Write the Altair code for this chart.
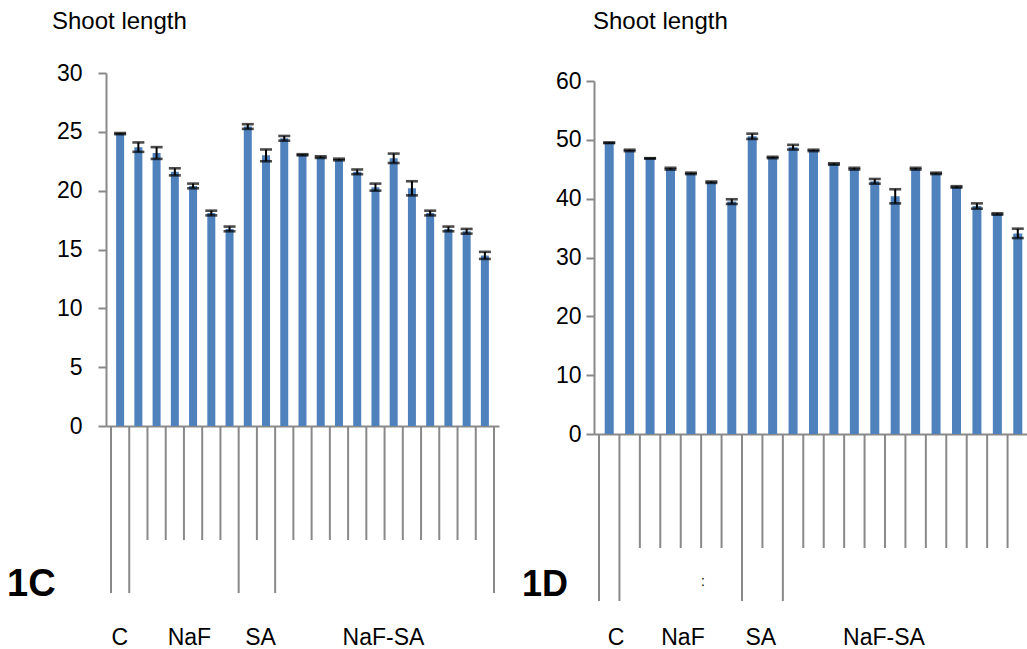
import altair as alt
import pandas as pd

# ---------------- data ----------------
group_names = ["C", "NaF", "SA", "NaF-SA"]
group_sizes = [1, 6, 2, 12]

# Panel 1C : shoot length (y 0-30)
values_c = [24.85, 23.7, 23.2, 21.6, 20.4, 18.1, 16.75, 25.45, 23.0, 24.45, 23.05,
            22.85, 22.65, 21.6, 20.3, 22.75, 20.2, 18.1, 16.75, 16.55, 14.5]
err_c = [0.05, 0.4, 0.5, 0.3, 0.2, 0.2, 0.2, 0.2, 0.5, 0.2, 0.05,
         0.07, 0.07, 0.2, 0.3, 0.4, 0.6, 0.2, 0.2, 0.2, 0.3]

# Panel 1D : shoot length (y 0-60)
values_d = [49.5, 48.2, 46.85, 45.1, 44.3, 42.8, 39.5, 50.6, 47.0, 48.75, 48.2,
            45.9, 45.1, 42.95, 40.4, 45.1, 44.3, 42.0, 38.75, 37.4, 34.1]
err_d = [0.05, 0.12, 0.03, 0.15, 0.12, 0.12, 0.4, 0.45, 0.12, 0.4, 0.12,
         0.12, 0.15, 0.4, 1.2, 0.15, 0.12, 0.12, 0.45, 0.12, 0.8]

ticks_c = [0, 5, 10, 15, 20, 25, 30]
ticks_d = [0, 10, 20, 30, 40, 50, 60]

# ---------------- layout (pixels) ----------------
W, H = 1027, 649
FONT = "Liberation Sans"
BAR_COLOR = "#4F81BD"
AXIS_COLOR = "#898989"
LABEL_SIZE = 23

LAYOUT = {
    "C": dict(x0=106, x1=499, y0=426, ytop=73, short=540, long=593,
              bar=8, label_pad=16, label_nudge=[-0.02, 0.3, 0.2, -0.06]),
    "D": dict(x0=594, x1=1033, y0=434, ytop=81, short=548, long=601,
              bar=9, label_pad=5, label_nudge=[0.34, 0.11, -0.08, -1.05]),
}


def panel(values, errs, ticks, key):
    L = LAYOUT[key]
    n = len(values)
    df = pd.DataFrame({
        "idx": list(range(n)),
        "value": values,
        "err": errs,
    })
    df["xc"] = df["idx"] + 0.5
    df["lo"] = df["value"] - df["err"]
    df["hi"] = df["value"] + df["err"]

    # group boundaries
    edges = [0]
    for s in group_sizes:
        edges.append(edges[-1] + s)
    bdf = pd.DataFrame({"b": list(range(n + 1))})
    bdf["long"] = bdf["b"].isin(edges)

    # group label positions (group centres + small layout nudges)
    centres = [(edges[i] + edges[i + 1]) / 2 + L["label_nudge"][i]
               for i in range(len(group_names))]
    gdf = pd.DataFrame({"g": group_names, "gx": centres})

    xs = alt.Scale(domain=[0, n], range=[L["x0"], L["x1"]], nice=False, zero=False)
    ys = alt.Scale(domain=[ticks[0], ticks[-1]], range=[L["y0"], L["ytop"]], nice=False)

    xaxis = alt.Axis(orient="bottom", offset=-(H - L["y0"]), ticks=False, labels=False,
                     grid=False, title=None, domainColor=AXIS_COLOR, domainWidth=2)
    yaxis = alt.Axis(orient="left", offset=-L["x0"], values=ticks, grid=False, title=None,
                     tickSize=8, tickWidth=2, tickColor=AXIS_COLOR,
                     domainColor=AXIS_COLOR, domainWidth=2,
                     labelFont=FONT, labelFontSize=LABEL_SIZE, labelColor="black",
                     labelPadding=L["label_pad"])

    base = alt.Chart(df)
    bars = base.mark_bar(orient="vertical", size=L["bar"], color=BAR_COLOR).encode(
        x=alt.X("xc:Q", scale=xs, axis=xaxis),
        y=alt.Y("value:Q", scale=ys, axis=yaxis),
        y2=alt.Y2(datum=0),
    )
    whisk = base.mark_rule(color="black", strokeWidth=2).encode(
        x="xc:Q", y="lo:Q", y2="hi:Q")
    cap_hi = base.mark_tick(orient="horizontal", size=12, thickness=2.6, color="black").encode(
        x="xc:Q", y="hi:Q")
    cap_lo = base.mark_tick(orient="horizontal", size=12, thickness=2.6, color="black").encode(
        x="xc:Q", y="lo:Q")

    seps_short = alt.Chart(bdf).transform_filter("!datum.long").mark_rule(
        color=AXIS_COLOR, strokeWidth=2).encode(
        x="b:Q", y=alt.Y(datum=0), y2=alt.value(L["short"]))
    seps_long = alt.Chart(bdf).transform_filter("datum.long").mark_rule(
        color=AXIS_COLOR, strokeWidth=2).encode(
        x="b:Q", y=alt.Y(datum=0), y2=alt.value(L["long"]))

    labels = alt.Chart(gdf).mark_text(font=FONT, fontSize=LABEL_SIZE, color="black",
                                      align="center", baseline="alphabetic").encode(
        x="gx:Q", y=alt.value(645), text="g:N")

    return alt.layer(seps_short, seps_long, bars, whisk, cap_hi, cap_lo, labels)


one = pd.DataFrame({"a": [0]})


def note(text, x, y, size, bold=False):
    return alt.Chart(one).mark_text(
        text=text, font=FONT, fontSize=size, fontWeight="bold" if bold else "normal",
        color="black", align="left", baseline="alphabetic").encode(
        x=alt.value(x), y=alt.value(y))


pc = panel(values_c, err_c, ticks_c, "C")
pd_ = panel(values_d, err_d, ticks_d, "D")

notes = alt.layer(
    note("Shoot length", 52, 29, 24),
    note("Shoot length", 593, 29, 24),
    note("1C", 7, 596, 38, bold=True),
    note("1D", 522, 596, 36, bold=True),
    note(":", 701, 586, 14),
)

chart = alt.layer(pc, pd_, notes).resolve_scale(
    x="independent", y="independent").resolve_axis(
    x="independent", y="independent").properties(
    width=W, height=H, padding=0,
    autosize=alt.AutoSizeParams(type="none"),
).configure_view(stroke=None)

chart.save("out.html", embed_options={"renderer": "svg", "actions": False})
